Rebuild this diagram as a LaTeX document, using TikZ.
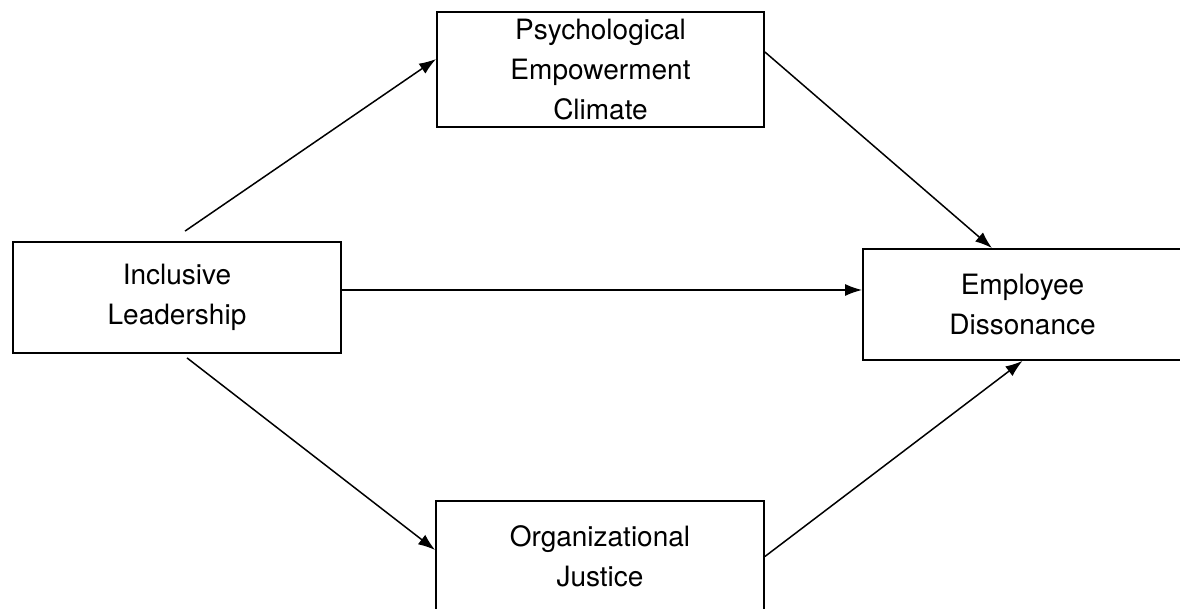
\documentclass[tikz,border=0pt]{standalone}
\usepackage{fontspec}
\setmainfont{TeX Gyre Heros}
\usetikzlibrary{positioning, arrows.meta}
\tikzset{construct/.style={draw,line width=0.9pt,minimum height=55.5pt,align=center,font=\fontsize{14}{20}\selectfont},
         effect/.style={->,line width=0.75pt},
        }

\begin{document}
\begin{tikzpicture}[x=0.5pt,y=-0.5pt,>={Latex[length=8.5pt,width=6pt]}]
        \useasboundingbox(0,0)rectangle(1180,609);

        \node[construct, minimum width=163.5pt](pec)at(600.5,69.5){Psychological\\Empowerment\\Climate};
        \node[construct, minimum width=164pt](il)at(177,297.5){Inclusive\\Leadership};
        \node[construct, minimum width=159.5pt](ed)at(1022.5,304.5){Employee\\Dissonance};
        \node[construct, minimum width=164pt](oj)at(600,556.5){Organizational\\Justice};

        \coordinate(h)at([yshift=3.75pt]il.east);

        \draw[effect]([xshift=4pt,yshift=5pt]il.north)--([yshift=5.25pt]pec.west);
        \draw[effect]([yshift=8.75pt]pec.east)--([xshift=-15.25pt]ed.north);
        \draw[effect](h)--(h-|ed.west);
        \draw[effect]([xshift=5pt,yshift=-2pt]il.south)--([yshift=3.25pt]oj.west);
        \draw[effect](oj.east)--(ed.south);
    \end{tikzpicture}
\end{document}
